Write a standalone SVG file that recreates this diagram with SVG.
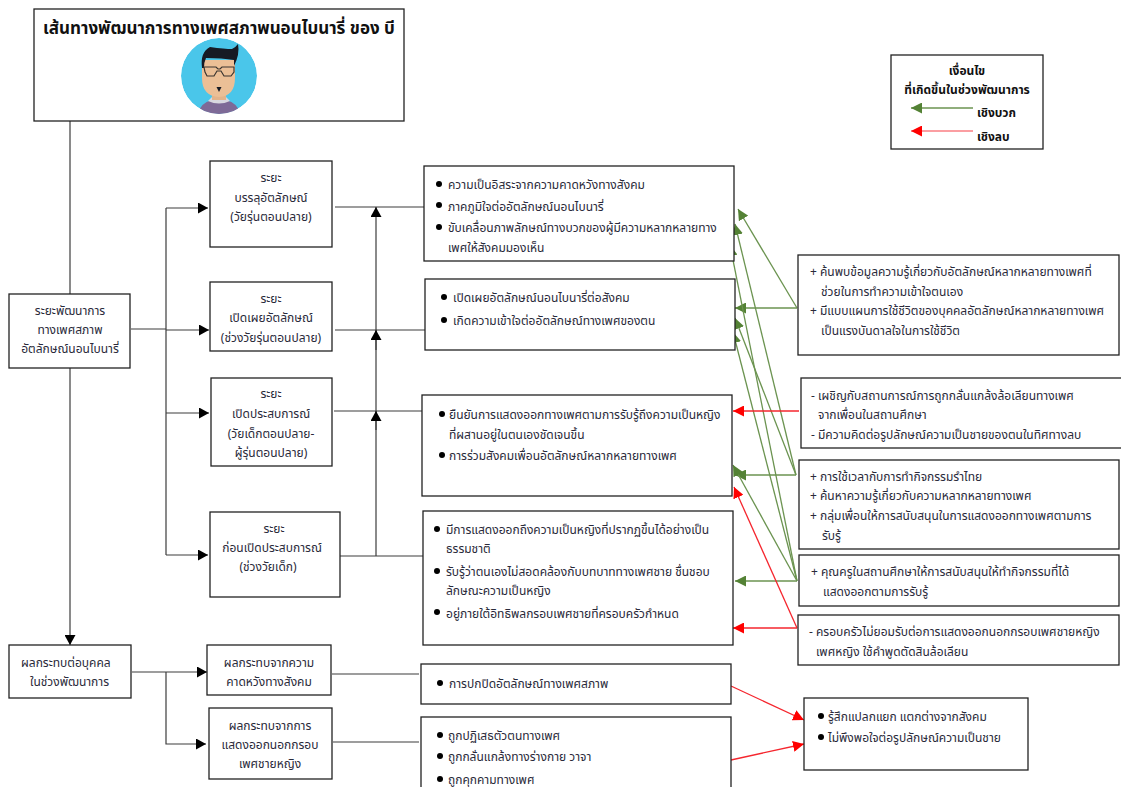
<svg xmlns="http://www.w3.org/2000/svg" width="1121" height="787" viewBox="0 0 1121 787">
<style>
text{font-family:"Noto Sans","Noto Sans Thai","DejaVu Sans","Liberation Sans",sans-serif;font-size:12px;fill:#2a2a3a}
.c{text-anchor:middle}
.b{font-weight:bold;fill:#111}
.t{font-size:17px;font-weight:bold;fill:#111}
.box{fill:#fff;stroke:#222;stroke-width:1.3}
.k{fill:none;stroke:#3c3c3c;stroke-width:1.2}
.g{fill:none;stroke:#6b9350;stroke-width:1.3;marker-end:url(#ag)}
.r{fill:none;stroke:#f5262e;stroke-width:1.3;marker-end:url(#ar)}
.a{marker-end:url(#ak)}
.d{fill:#000;stroke:none}
</style>
<defs>
<marker id="ak" markerUnits="userSpaceOnUse" markerWidth="11" markerHeight="11" refX="10" refY="5.500" orient="auto"><path d="M0 0L10 5.500L0 11Z" fill="#000"/></marker>
<marker id="ag" markerUnits="userSpaceOnUse" markerWidth="12" markerHeight="11" refX="11" refY="5.500" orient="auto"><path d="M0 0L11 5.500L0 11Z" fill="#548235"/></marker>
<marker id="ar" markerUnits="userSpaceOnUse" markerWidth="12" markerHeight="11" refX="11" refY="5.500" orient="auto"><path d="M0 0L11 5.500L0 11Z" fill="#f00"/></marker>
<clipPath id="cc"><circle cx="219" cy="76" r="38"/></clipPath>
</defs>
<g id="connectors">
<path class="k" d="M70 121V294"/>
<path class="k a" d="M70 368V645"/>
<path class="k" d="M131 329H166M166 208V555"/>
<path class="k a" d="M166 208H208"/>
<path class="k a" d="M166 330H209"/>
<path class="k a" d="M166 413H209"/>
<path class="k a" d="M166 555H208"/>
<path class="k" d="M335 207H424M335 330H425M334 411H422M340 556H423"/>
<path class="k a" d="M376 556V207"/>
<path class="k a" d="M376 350V330"/>
<path class="k a" d="M376 430V411"/>
<path class="k a" d="M132 672H207"/>
<path class="k a" d="M166 672V744H206"/>
<path class="k" d="M332 674H419M333 742H419"/>
<path class="g" d="M797 308L738 209"/>
<path class="g" d="M797 308H735"/>
<path class="g" d="M796 475L735 224"/>
<path class="g" d="M796 475L735 318"/>
<path class="g" d="M796 475H735"/>
<path class="g" d="M797 581L730 245"/>
<path class="g" d="M797 581L733 332"/>
<path class="g" d="M797 581L733 465"/>
<path class="g" d="M797 581H735"/>
<path class="r" d="M799 411H733"/>
<path class="r" d="M797 628H733"/>
<path class="r" d="M797 628L734 487"/>
<path class="r" d="M731 686L804 720"/>
<path class="r" d="M731 760L804 744"/>
</g>
<g id="title">
<rect class="box" x="34" y="9" width="370" height="112"/>
<text class="t c" x="219" y="34">เส้นทางพัฒนาการทางเพศสภาพนอนไบนารี่ ของ บี</text>
<g clip-path="url(#cc)">
<circle cx="219" cy="76" r="38" fill="#4ac6ea"/>
<path d="M198 114Q200 103 212 100H226Q238 103 240 114Z" fill="#7e6a97"/>
<path d="M208 101Q219 106 230 101L226 97H212Z" fill="#d8d8e0"/>
<rect x="212" y="88" width="14" height="12" fill="#e2b48c"/>
<path d="M202 60H235V78Q235 96 219 97Q202 96 202 78Z" fill="#ebbf96"/>
<path d="M202 68Q200 52 210 47Q225 49 232 49Q236 47 238 44Q240 54 234 66V60Q222 58 206 58Q204 62 204 68Z" fill="#161a24"/>
<path d="M204 67H216L218 69H220L222 67H234V72L231 76H224L221 71H217L214 76H207L205 72Z" fill="#ebbf96" stroke="#3a3530" stroke-width="1.2"/>
<path d="M216.500 87H221.500L219 92Z" fill="#161a24"/>
</g>
</g>
<g id="legend">
<rect class="box" x="891" y="55" width="152" height="94"/>
<text class="b c" x="967" y="75">เงื่อนไข</text>
<text class="b c" x="967" y="94">ที่เกิดขึ้นในช่วงพัฒนาการ</text>
<path class="g" d="M973 108H911"/>
<path class="r" stroke-opacity=".6" d="M973 131H911"/>
<text class="b" x="977" y="117">เชิงบวก</text>
<text class="b" x="977" y="141">เชิงลบ</text>
</g>
<g id="main">
<rect class="box" x="9" y="294" width="121" height="74"/>
<text class="c" x="70" y="315">ระยะพัฒนาการ</text>
<text class="c" x="70" y="334">ทางเพศสภาพ</text>
<text class="c" x="70" y="353">อัตลักษณ์นอนไบนารี่</text>
</g>
<g id="phase1">
<rect class="box" x="210" y="161" width="122" height="86"/>
<text class="c" x="271" y="182">ระยะ</text>
<text class="c" x="271" y="202">บรรลุอัตลักษณ์</text>
<text class="c" x="271" y="221">(วัยรุ่นตอนปลาย)</text>
</g>
<g id="phase2">
<rect class="box" x="210" y="282" width="122" height="69"/>
<text class="c" x="271" y="303">ระยะ</text>
<text class="c" x="271" y="322">เปิดเผยอัตลักษณ์</text>
<text class="c" x="271" y="342">(ช่วงวัยรุ่นตอนปลาย)</text>
</g>
<g id="phase3">
<rect class="box" x="211" y="378" width="121" height="88"/>
<text class="c" x="271" y="398">ระยะ</text>
<text class="c" x="271" y="418">เปิดประสบการณ์</text>
<text class="c" x="271" y="438">(วัยเด็กตอนปลาย-</text>
<text class="c" x="271" y="457">ผู้รุ่นตอนปลาย)</text>
</g>
<g id="phase4">
<rect class="box" x="210" y="512" width="130" height="85"/>
<text class="c" x="274" y="533">ระยะ</text>
<text class="c" x="272" y="552">ก่อนเปิดประสบการณ์</text>
<text class="c" x="268" y="571">(ช่วงวัยเด็ก)</text>
</g>
<g id="content1">
<rect class="box" x="424" y="166" width="310" height="95"/>
<circle class="d" cx="439" cy="184" r="3"/><text x="448" y="189">ความเป็นอิสระจากความคาดหวังทางสังคม</text>
<circle class="d" cx="439" cy="205" r="3"/><text x="448" y="211">ภาคภูมิใจต่ออัตลักษณ์นอนไบนารี่</text>
<circle class="d" cx="439" cy="227" r="3"/><text x="448" y="232">ขับเคลื่อนภาพลักษณ์ทางบวกของผู้มีความหลากหลายทาง</text>
<text x="448" y="252">เพศให้สังคมมองเห็น</text>
</g>
<g id="content2">
<rect class="box" x="425" y="279" width="310" height="71"/>
<circle class="d" cx="444" cy="297" r="3"/><text x="453" y="302">เปิดเผยอัตลักษณ์นอนไบนารี่ต่อสังคม</text>
<circle class="d" cx="444" cy="320" r="3"/><text x="453" y="325">เกิดความเข้าใจต่ออัตลักษณ์ทางเพศของตน</text>
</g>
<g id="content3">
<rect class="box" x="422" y="395" width="310" height="101"/>
<circle class="d" cx="442" cy="414" r="3"/><text x="449" y="419">ยืนยันการแสดงออกทางเพศตามการรับรู้ถึงความเป็นหญิง</text>
<text x="449" y="439">ที่ผสานอยู่ในตนเองชัดเจนขึ้น</text>
<circle class="d" cx="442" cy="455" r="3"/><text x="449" y="460">การร่วมสังคมเพื่อนอัตลักษณ์หลากหลายทางเพศ</text>
</g>
<g id="content4">
<rect class="box" x="423" y="511" width="310" height="134"/>
<circle class="d" cx="437" cy="529" r="3"/><text x="446" y="534">มีการแสดงออกถึงความเป็นหญิงที่ปรากฏขึ้นได้อย่างเป็น</text>
<text x="446" y="553">ธรรมชาติ</text>
<circle class="d" cx="437" cy="571" r="3"/><text x="446" y="576">รับรู้ว่าตนเองไม่สอดคล้องกับบทบาททางเพศชาย ชื่นชอบ</text>
<text x="446" y="595">ลักษณะความเป็นหญิง</text>
<circle class="d" cx="437" cy="612" r="3"/><text x="446" y="618">อยู่ภายใต้อิทธิพลกรอบเพศชายที่ครอบครัวกำหนด</text>
</g>
<g id="cond1">
<rect class="box" x="798" y="255" width="321" height="100"/>
<text x="810" y="276">+</text><text x="820" y="276">ค้นพบข้อมูลความรู้เกี่ยวกับอัตลักษณ์หลากหลายทางเพศที่</text>
<text x="821" y="296">ช่วยในการทำความเข้าใจตนเอง</text>
<text x="810" y="315">+</text><text x="820" y="315">มีแบบแผนการใช้ชีวิตของบุคคลอัตลักษณ์หลากหลายทางเพศ</text>
<text x="821" y="335">เป็นแรงบันดาลใจในการใช้ชีวิต</text>
</g>
<g id="cond2">
<rect class="box" x="801" y="378" width="321" height="70"/>
<text x="811" y="400">-</text><text x="818" y="400">เผชิญกับสถานการณ์การถูกกลั่นแกล้งล้อเลียนทางเพศ</text>
<text x="818" y="419">จากเพื่อนในสถานศึกษา</text>
<text x="811" y="439">-</text><text x="818" y="439">มีความคิดต่อรูปลักษณ์ความเป็นชายของตนในทิศทางลบ</text>
</g>
<g id="cond3">
<rect class="box" x="799" y="460" width="320" height="89"/>
<text x="810" y="481">+</text><text x="820" y="481">การใช้เวลากับการทำกิจกรรมรำไทย</text>
<text x="810" y="500">+</text><text x="820" y="500">ค้นหาความรู้เกี่ยวกับความหลากหลายทางเพศ</text>
<text x="810" y="520">+</text><text x="820" y="520">กลุ่มเพื่อนให้การสนับสนุนในการแสดงออกทางเพศตามการ</text>
<text x="822" y="540">รับรู้</text>
</g>
<g id="cond4">
<rect class="box" x="799" y="555" width="320" height="51"/>
<text x="811" y="576">+</text><text x="821" y="576">คุณครูในสถานศึกษาให้การสนับสนุนให้ทำกิจกรรมที่ได้</text>
<text x="823" y="596">แสดงออกตามการรับรู้</text>
</g>
<g id="cond5">
<rect class="box" x="798" y="615" width="321" height="50"/>
<text x="809" y="636">-</text><text x="816" y="636">ครอบครัวไม่ยอมรับต่อการแสดงออกนอกกรอบเพศชายหญิง</text>
<text x="816" y="656">เพศหญิง ใช้คำพูดตัดสินล้อเลียน</text>
</g>
<g id="impact">
<rect class="box" x="9" y="645" width="122" height="53"/>
<text x="21" y="667">ผลกระทบต่อบุคคล</text>
<text x="30" y="686">ในช่วงพัฒนาการ</text>
</g>
<g id="impact1">
<rect class="box" x="207" y="645" width="124" height="50"/>
<text class="c" x="269" y="667">ผลกระทบจากความ</text>
<text class="c" x="269" y="686">คาดหวังทางสังคม</text>
</g>
<g id="impact2">
<rect class="box" x="209" y="708" width="123" height="71"/>
<text class="c" x="270" y="730">ผลกระทบจากการ</text>
<text class="c" x="270" y="749">แสดงออกนอกกรอบ</text>
<text class="c" x="270" y="768">เพศชายหญิง</text>
</g>
<g id="effect1">
<rect class="box" x="421" y="664" width="310" height="40"/>
<circle class="d" cx="440" cy="683" r="3"/><text x="449" y="688">การปกปิดอัตลักษณ์ทางเพศสภาพ</text>
</g>
<g id="effect2">
<rect class="box" x="421" y="717" width="310" height="75"/>
<circle class="d" cx="440" cy="735" r="3"/><text x="448" y="740">ถูกปฏิเสธตัวตนทางเพศ</text>
<circle class="d" cx="440" cy="756" r="3"/><text x="448" y="761">ถูกกลั่นแกล้งทางร่างกาย วาจา</text>
<circle class="d" cx="440" cy="779" r="3"/><text x="448" y="784">ถูกคุกคามทางเพศ</text>
</g>
<g id="outcome">
<rect class="box" x="804" y="698" width="224" height="72"/>
<circle class="d" cx="821" cy="716" r="3"/><text x="828" y="721">รู้สึกแปลกแยก แตกต่างจากสังคม</text>
<circle class="d" cx="821" cy="737" r="3"/><text x="828" y="742">ไม่พึงพอใจต่อรูปลักษณ์ความเป็นชาย</text>
</g>
</svg>
